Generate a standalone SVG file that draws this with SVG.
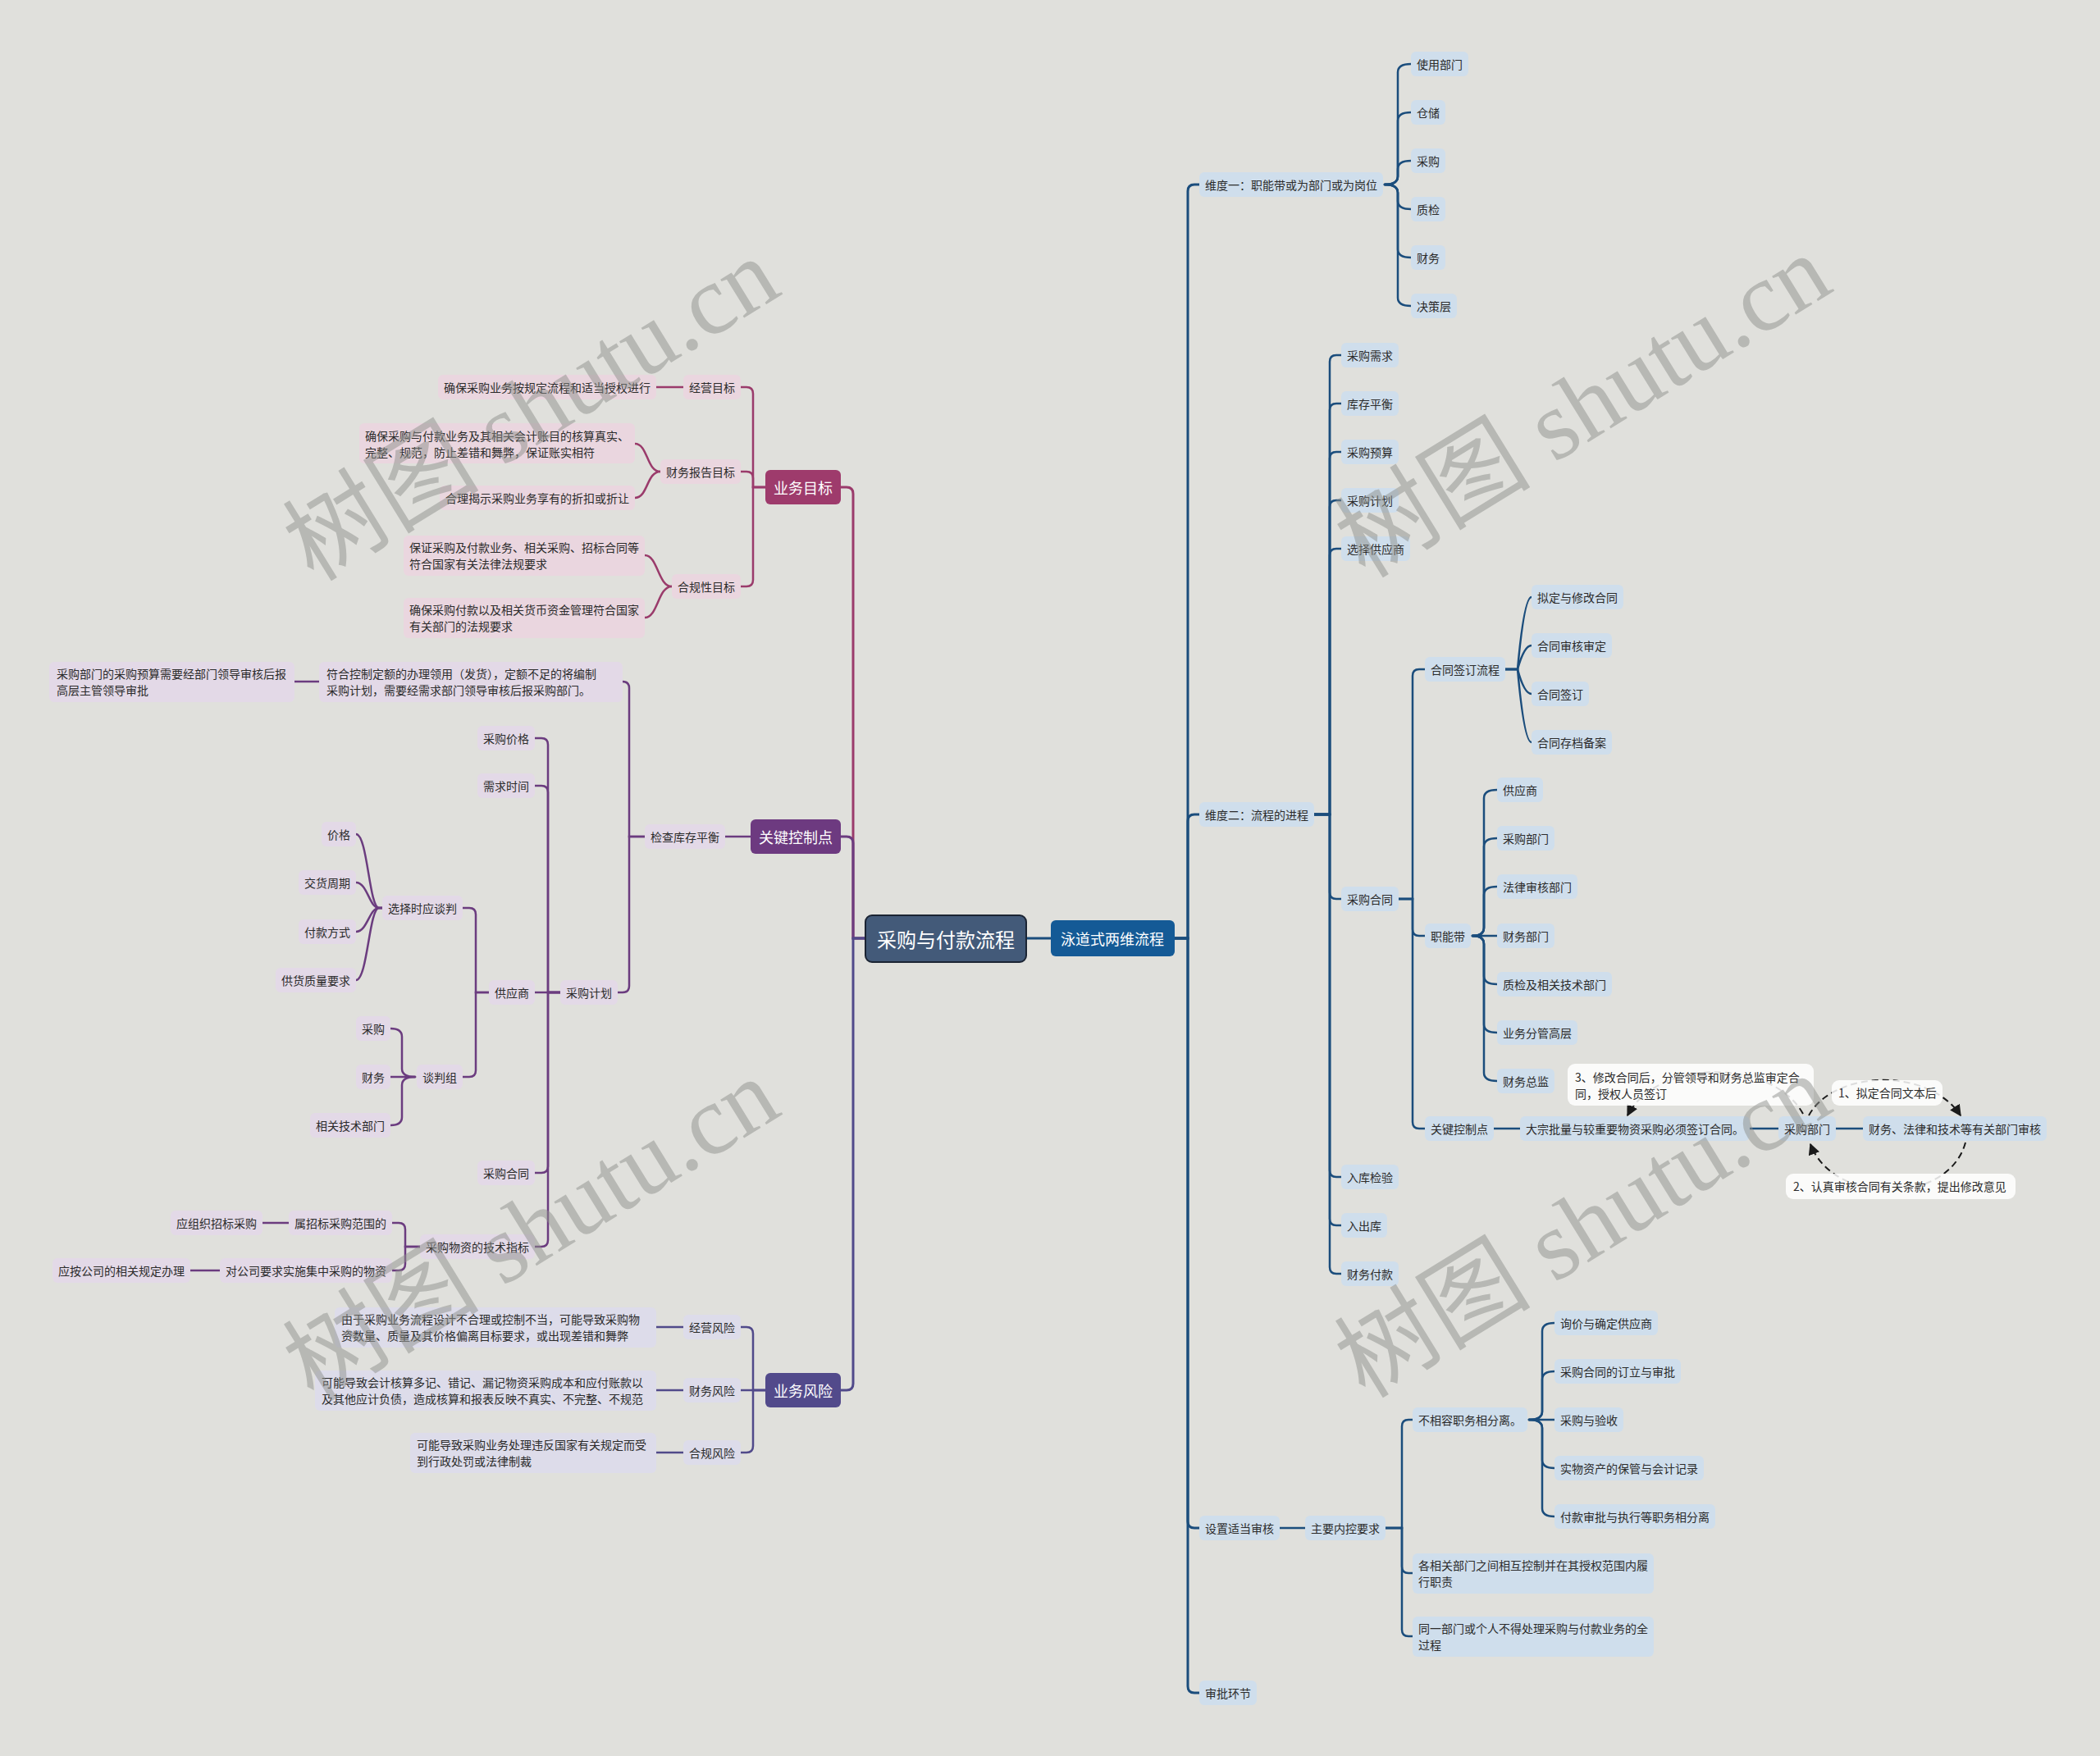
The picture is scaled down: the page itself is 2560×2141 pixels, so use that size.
<svg xmlns="http://www.w3.org/2000/svg" width="2560" height="2141" viewBox="0 0 2560 2141">
<defs>
<style>
.t{font-family:"Noto Sans CJK SC","Noto Sans",sans-serif;font-size:14px;fill:#2b2b2b;dominant-baseline:central}
.tw{font-family:"Noto Sans CJK SC","Noto Sans",sans-serif;font-size:18px;fill:#fff;text-anchor:middle;dominant-baseline:central}
rect{rx:6px}
.nb{fill:#cfdeec}
.np{fill:#ead6df}
.nv{fill:#e3d9e7}
.ni{fill:#dddcea}
.lb{fill:#fff;fill-opacity:.85;rx:9px}
.c{fill:none;stroke-width:2.5;stroke-linecap:round}
.c3{stroke-width:3}
.cb{stroke:#1b4d7c}
.cp{stroke:#9a3b6b}
.cv{stroke:#6b3c7f}
.ci{stroke:#514a8a}
.ar{fill:none;stroke:#1a1a1a;stroke-width:2;stroke-dasharray:8 5;marker-end:url(#ah)}
.wm{font-family:"Liberation Serif","Noto Sans CJK SC",serif;font-size:120px;fill:#8e908c;fill-opacity:.5;text-anchor:middle}
</style>
<marker id="ah" viewBox="0 0 10 10" refX="9" refY="5" markerWidth="14" markerHeight="14" markerUnits="userSpaceOnUse" orient="auto"><path d="M0,0 L10,5 L0,10 z" fill="#1a1a1a"/></marker>
</defs>
<rect x="0" y="0" width="2560" height="2141" style="fill:#e0e0dc;rx:0"/>

<g id="connectors">
<path class="c c3 cb" d="M1251 1144 H1281"/>
<path class="c c3 cb" d="M1432 1144 H1448 V233 Q1448 225 1456 225 H1462"/>
<path class="c c3 cb" d="M1432 1144 H1448 V1001 Q1448 993 1456 993 H1462"/>
<path class="c c3 cb" d="M1432 1144 H1448 V1855 Q1448 1863 1456 1863 H1462"/>
<path class="c c3 cb" d="M1432 1144 H1448 V2056 Q1448 2064 1456 2064 H1462"/>
<path class="c cb" d="M1688 225 Q1704 225 1704 215 V88 Q1704 78 1720 78"/>
<path class="c cb" d="M1688 225 Q1704 225 1704 215 V147 Q1704 137 1720 137"/>
<path class="c cb" d="M1688 225 Q1704 225 1704 215 V206 Q1704 196 1720 196"/>
<path class="c cb" d="M1688 225 Q1704 225 1704 235 V245 Q1704 255 1720 255"/>
<path class="c cb" d="M1688 225 Q1704 225 1704 235 V304 Q1704 314 1720 314"/>
<path class="c cb" d="M1688 225 Q1704 225 1704 235 V363 Q1704 373 1720 373"/>
<path class="c cb" d="M1602 993 H1621 V441 Q1621 433 1629 433 H1635"/>
<path class="c cb" d="M1602 993 H1621 V500 Q1621 492 1629 492 H1635"/>
<path class="c cb" d="M1602 993 H1621 V559 Q1621 551 1629 551 H1635"/>
<path class="c cb" d="M1602 993 H1621 V618 Q1621 610 1629 610 H1635"/>
<path class="c cb" d="M1602 993 H1621 V677 Q1621 669 1629 669 H1635"/>
<path class="c cb" d="M1602 993 H1621 V1088 Q1621 1096 1629 1096 H1635"/>
<path class="c cb" d="M1602 993 H1621 V1427 Q1621 1435 1629 1435 H1635"/>
<path class="c cb" d="M1602 993 H1621 V1486 Q1621 1494 1629 1494 H1635"/>
<path class="c cb" d="M1602 993 H1621 V1545 Q1621 1553 1629 1553 H1635"/>
<path class="c cb" d="M1705 1096 H1722 V824 Q1722 816 1730 816 H1737"/>
<path class="c cb" d="M1705 1096 H1722 V1133 Q1722 1141 1730 1141 H1737"/>
<path class="c cb" d="M1705 1096 H1722 V1368 Q1722 1376 1730 1376 H1737"/>
<path class="c cb" d="M1835 816 H1850 Q1858 728 1867 728"/>
<path class="c cb" d="M1835 816 H1850 Q1858 787 1867 787"/>
<path class="c cb" d="M1835 816 H1850 Q1858 846 1867 846"/>
<path class="c cb" d="M1835 816 H1850 Q1858 905 1867 905"/>
<path class="c cb" d="M1795 1141 Q1809 1141 1809 1131 V973 Q1809 963 1825 963"/>
<path class="c cb" d="M1795 1141 Q1809 1141 1809 1131 V1032 Q1809 1022 1825 1022"/>
<path class="c cb" d="M1795 1141 Q1809 1141 1809 1131 V1091 Q1809 1081 1825 1081"/>
<path class="c cb" d="M1795 1141 H1825"/>
<path class="c cb" d="M1795 1141 Q1809 1141 1809 1151 V1190 Q1809 1200 1825 1200"/>
<path class="c cb" d="M1795 1141 Q1809 1141 1809 1151 V1249 Q1809 1259 1825 1259"/>
<path class="c cb" d="M1795 1141 Q1809 1141 1809 1151 V1308 Q1809 1318 1825 1318"/>
<path class="c cb" d="M1821 1376 H1853"/>
<path class="c cb" d="M2133 1376 H2168"/>
<path class="c cb" d="M2238 1376 H2271"/>
<path class="c cb" d="M1560 1863 H1591"/>
<path class="c cb" d="M1689 1863 H1709 V1739 Q1709 1731 1717 1731 H1722"/>
<path class="c cb" d="M1689 1863 H1709 V1910 Q1709 1918 1717 1918 H1722"/>
<path class="c cb" d="M1689 1863 H1709 V1987 Q1709 1995 1717 1995 H1722"/>
<path class="c cb" d="M1864 1731 Q1880 1731 1880 1721 V1623 Q1880 1613 1895 1613"/>
<path class="c cb" d="M1864 1731 Q1880 1731 1880 1721 V1682 Q1880 1672 1895 1672"/>
<path class="c cb" d="M1864 1731 H1895"/>
<path class="c cb" d="M1864 1731 Q1880 1731 1880 1741 V1780 Q1880 1790 1895 1790"/>
<path class="c cb" d="M1864 1731 Q1880 1731 1880 1741 V1839 Q1880 1849 1895 1849"/>

<path class="c c3 cp" d="M1055 1144 H1040 V602 Q1040 594 1032 594 H1025"/>
<path class="c c3 cv" d="M1055 1144 H1040 V1028 Q1040 1020 1032 1020 H1025"/>
<path class="c c3 ci" d="M1055 1144 H1040 V1687 Q1040 1695 1032 1695 H1025"/>

<path class="c cp" d="M933 594 H918 V480 Q918 472 910 472 H903"/>
<path class="c cp" d="M933 594 H918 V583 Q918 575 910 575 H903"/>
<path class="c cp" d="M933 594 H918 V707 Q918 715 910 715 H903"/>
<path class="c cp" d="M833 472 H800"/>
<path class="c cp" d="M805 575 C788 575 790 541 774 541"/>
<path class="c cp" d="M805 575 C788 575 790 607 774 607"/>
<path class="c cp" d="M819 715 C802 715 802 677 786 677"/>
<path class="c cp" d="M819 715 C802 715 802 753 786 753"/>

<path class="c cv" d="M915 1020 H884"/>
<path class="c cv" d="M786 1020 H767 V839 Q767 831 759 831"/>
<path class="c cv" d="M786 1020 H767 V1202 Q767 1210 759 1210 H753"/>
<path class="c cv" d="M389 831 H359"/>
<path class="c cv" d="M683 1210 H668 V908 Q668 900 660 900 H652"/>
<path class="c cv" d="M683 1210 H668 V966 Q668 958 660 958 H652"/>
<path class="c cv" d="M683 1210 H652"/>
<path class="c cv" d="M683 1210 H668 V1422 Q668 1430 660 1430 H652"/>
<path class="c cv" d="M683 1210 H668 V1512 Q668 1520 660 1520 H652"/>
<path class="c cv" d="M596 1210 H580 V1115 Q580 1107 572 1107 H564"/>
<path class="c cv" d="M596 1210 H580 V1305 Q580 1313 572 1313 H564"/>
<path class="c cv" d="M466 1107 H462 C450 1107 448 1017 434 1017"/>
<path class="c cv" d="M466 1107 H462 C450 1107 448 1076 434 1076"/>
<path class="c cv" d="M466 1107 H462 C450 1107 448 1136 434 1136"/>
<path class="c cv" d="M466 1107 H462 C450 1107 448 1195 434 1195"/>
<path class="c cv" d="M506 1313 Q490 1313 490 1303 V1264 Q490 1254 476 1254"/>
<path class="c cv" d="M506 1313 H476"/>
<path class="c cv" d="M506 1313 Q490 1313 490 1323 V1362 Q490 1372 476 1372"/>
<path class="c cv" d="M512 1520 H494 V1499 Q494 1491 486 1491 H478"/>
<path class="c cv" d="M512 1520 H494 V1541 Q494 1549 486 1549 H478"/>
<path class="c cv" d="M352 1491 H320"/>
<path class="c cv" d="M268 1549 H232"/>

<path class="c ci" d="M933 1695 H918 V1626 Q918 1618 910 1618 H903"/>
<path class="c ci" d="M933 1695 H903"/>
<path class="c ci" d="M933 1695 H918 V1763 Q918 1771 910 1771 H903"/>
<path class="c ci" d="M833 1618 H800"/>
<path class="c ci" d="M833 1695 H800"/>
<path class="c ci" d="M833 1771 H800"/>

<path class="ar" d="M2205 1360 C2235 1305 2350 1300 2390 1360"/>
<path class="ar" d="M2396 1393 C2375 1470 2235 1470 2207 1395"/>
<path class="ar" d="M2198 1358 C2160 1290 2020 1290 1984 1360"/>
</g>

<g id="root"><rect x="1055" y="1116" width="196" height="57" style="fill:#435a79;stroke:#1b2433;stroke-width:2;rx:8px"/><text class="tw" x="1153" y="1144" style="font-size:24px">采购与付款流程</text></g>
<g id="n-swim"><rect x="1281" y="1122" width="151" height="44" style="fill:#145a96"/><text class="tw" x="1356" y="1144">泳道式两维流程</text></g>

<g id="n-d1"><rect class="nb" x="1462" y="210" width="224" height="30"/><text class="t" x="1469" y="225">维度一：职能带或为部门或为岗位</text></g>
<g id="n-d1-1"><rect class="nb" x="1720" y="63" width="70" height="30"/><text class="t" x="1727" y="78">使用部门</text></g>
<g id="n-d1-2"><rect class="nb" x="1720" y="122" width="42" height="30"/><text class="t" x="1727" y="137">仓储</text></g>
<g id="n-d1-3"><rect class="nb" x="1720" y="181" width="42" height="30"/><text class="t" x="1727" y="196">采购</text></g>
<g id="n-d1-4"><rect class="nb" x="1720" y="240" width="42" height="30"/><text class="t" x="1727" y="255">质检</text></g>
<g id="n-d1-5"><rect class="nb" x="1720" y="299" width="42" height="30"/><text class="t" x="1727" y="314">财务</text></g>
<g id="n-d1-6"><rect class="nb" x="1720" y="358" width="56" height="30"/><text class="t" x="1727" y="373">决策层</text></g>

<g id="n-d2"><rect class="nb" x="1462" y="978" width="140" height="30"/><text class="t" x="1469" y="993">维度二：流程的进程</text></g>
<g id="n-d2-1"><rect class="nb" x="1635" y="418" width="70" height="30"/><text class="t" x="1642" y="433">采购需求</text></g>
<g id="n-d2-2"><rect class="nb" x="1635" y="477" width="70" height="30"/><text class="t" x="1642" y="492">库存平衡</text></g>
<g id="n-d2-3"><rect class="nb" x="1635" y="536" width="70" height="30"/><text class="t" x="1642" y="551">采购预算</text></g>
<g id="n-d2-4"><rect class="nb" x="1635" y="595" width="70" height="30"/><text class="t" x="1642" y="610">采购计划</text></g>
<g id="n-d2-5"><rect class="nb" x="1635" y="654" width="84" height="30"/><text class="t" x="1642" y="669">选择供应商</text></g>
<g id="n-d2-6"><rect class="nb" x="1635" y="1081" width="70" height="30"/><text class="t" x="1642" y="1096">采购合同</text></g>
<g id="n-d2-7"><rect class="nb" x="1635" y="1420" width="70" height="30"/><text class="t" x="1642" y="1435">入库检验</text></g>
<g id="n-d2-8"><rect class="nb" x="1635" y="1479" width="56" height="30"/><text class="t" x="1642" y="1494">入出库</text></g>
<g id="n-d2-9"><rect class="nb" x="1635" y="1538" width="70" height="30"/><text class="t" x="1642" y="1553">财务付款</text></g>

<g id="n-ht1"><rect class="nb" x="1737" y="801" width="98" height="30"/><text class="t" x="1744" y="816">合同签订流程</text></g>
<g id="n-ht2"><rect class="nb" x="1737" y="1126" width="56" height="30"/><text class="t" x="1744" y="1141">职能带</text></g>
<g id="n-ht3"><rect class="nb" x="1737" y="1361" width="84" height="30"/><text class="t" x="1744" y="1376">关键控制点</text></g>

<g id="n-qd1"><rect class="nb" x="1867" y="713" width="112" height="30"/><text class="t" x="1874" y="728">拟定与修改合同</text></g>
<g id="n-qd2"><rect class="nb" x="1867" y="772" width="98" height="30"/><text class="t" x="1874" y="787">合同审核审定</text></g>
<g id="n-qd3"><rect class="nb" x="1867" y="831" width="70" height="30"/><text class="t" x="1874" y="846">合同签订</text></g>
<g id="n-qd4"><rect class="nb" x="1867" y="890" width="98" height="30"/><text class="t" x="1874" y="905">合同存档备案</text></g>

<g id="n-zn1"><rect class="nb" x="1825" y="948" width="56" height="30"/><text class="t" x="1832" y="963">供应商</text></g>
<g id="n-zn2"><rect class="nb" x="1825" y="1007" width="70" height="30"/><text class="t" x="1832" y="1022">采购部门</text></g>
<g id="n-zn3"><rect class="nb" x="1825" y="1066" width="98" height="30"/><text class="t" x="1832" y="1081">法律审核部门</text></g>
<g id="n-zn4"><rect class="nb" x="1825" y="1126" width="70" height="30"/><text class="t" x="1832" y="1141">财务部门</text></g>
<g id="n-zn5"><rect class="nb" x="1825" y="1185" width="140" height="30"/><text class="t" x="1832" y="1200">质检及相关技术部门</text></g>
<g id="n-zn6"><rect class="nb" x="1825" y="1244" width="98" height="30"/><text class="t" x="1832" y="1259">业务分管高层</text></g>
<g id="n-zn7"><rect class="nb" x="1825" y="1303" width="70" height="30"/><text class="t" x="1832" y="1318">财务总监</text></g>

<g id="n-kc1"><rect class="nb" x="1853" y="1361" width="280" height="30"/><text class="t" x="1860" y="1376">大宗批量与较重要物资采购必须签订合同。</text></g>
<g id="n-kc2"><rect class="nb" x="2168" y="1361" width="70" height="30"/><text class="t" x="2175" y="1376">采购部门</text></g>
<g id="n-kc3"><rect class="nb" x="2271" y="1361" width="224" height="30"/><text class="t" x="2278" y="1376">财务、法律和技术等有关部门审核</text></g>

<g id="n-lab3"><rect class="lb" x="1911" y="1297" width="300" height="51"/><text class="t" x="1920"><tspan x="1920" y="1313">3、修改合同后，分管领导和财务总监审定合</tspan><tspan x="1920" y="1333">同，授权人员签订</tspan></text></g>
<g id="n-lab1"><rect class="lb" x="2233" y="1317" width="135" height="31"/><text class="t" x="2241" y="1332">1、拟定合同文本后</text></g>
<g id="n-lab2"><rect class="lb" x="2177" y="1431" width="280" height="31"/><text class="t" x="2186" y="1446">2、认真审核合同有关条款，提出修改意见</text></g>

<g id="n-d3"><rect class="nb" x="1462" y="1848" width="98" height="30"/><text class="t" x="1469" y="1863">设置适当审核</text></g>
<g id="n-nk"><rect class="nb" x="1591" y="1848" width="98" height="30"/><text class="t" x="1598" y="1863">主要内控要求</text></g>
<g id="n-nk1"><rect class="nb" x="1722" y="1716" width="140" height="30"/><text class="t" x="1729" y="1731">不相容职务相分离。</text></g>
<g id="n-nk2"><rect class="nb" x="1722" y="1894" width="294" height="49"/><text class="t" x="1729"><tspan x="1729" y="1908">各相关部门之间相互控制并在其授权范围内履</tspan><tspan x="1729" y="1928">行职责</tspan></text></g>
<g id="n-nk3"><rect class="nb" x="1722" y="1971" width="294" height="49"/><text class="t" x="1729"><tspan x="1729" y="1985">同一部门或个人不得处理采购与付款业务的全</tspan><tspan x="1729" y="2005">过程</tspan></text></g>
<g id="n-fl1"><rect class="nb" x="1895" y="1598" width="126" height="30"/><text class="t" x="1902" y="1613">询价与确定供应商</text></g>
<g id="n-fl2"><rect class="nb" x="1895" y="1657" width="154" height="30"/><text class="t" x="1902" y="1672">采购合同的订立与审批</text></g>
<g id="n-fl3"><rect class="nb" x="1895" y="1716" width="84" height="30"/><text class="t" x="1902" y="1731">采购与验收</text></g>
<g id="n-fl4"><rect class="nb" x="1895" y="1775" width="182" height="30"/><text class="t" x="1902" y="1790">实物资产的保管与会计记录</text></g>
<g id="n-fl5"><rect class="nb" x="1895" y="1834" width="196" height="30"/><text class="t" x="1902" y="1849">付款审批与执行等职务相分离</text></g>
<g id="n-d4"><rect class="nb" x="1462" y="2049" width="70" height="30"/><text class="t" x="1469" y="2064">审批环节</text></g>

<g id="n-ywmb"><rect x="933" y="573" width="92" height="42" style="fill:#9e3b6c"/><text class="tw" x="979" y="594">业务目标</text></g>
<g id="n-jy"><rect class="np" x="833" y="457" width="70" height="30"/><text class="t" x="840" y="472">经营目标</text></g>
<g id="n-jy1"><rect class="np" x="534" y="457" width="266" height="30"/><text class="t" x="541" y="472">确保采购业务按规定流程和适当授权进行</text></g>
<g id="n-cw"><rect class="np" x="805" y="560" width="98" height="30"/><text class="t" x="812" y="575">财务报告目标</text></g>
<g id="n-cw1"><rect class="np" x="438" y="516" width="336" height="49"/><text class="t" x="445"><tspan x="445" y="531">确保采购与付款业务及其相关会计账目的核算真实、</tspan><tspan x="445" y="551">完整、规范，防止差错和舞弊，保证账实相符</tspan></text></g>
<g id="n-cw2"><rect class="np" x="536" y="592" width="238" height="30"/><text class="t" x="543" y="607">合理揭示采购业务享有的折扣或折让</text></g>
<g id="n-hg"><rect class="np" x="819" y="700" width="84" height="30"/><text class="t" x="826" y="715">合规性目标</text></g>
<g id="n-hg1"><rect class="np" x="492" y="653" width="294" height="49"/><text class="t" x="499"><tspan x="499" y="667">保证采购及付款业务、相关采购、招标合同等</tspan><tspan x="499" y="687">符合国家有关法律法规要求</tspan></text></g>
<g id="n-hg2"><rect class="np" x="492" y="729" width="294" height="49"/><text class="t" x="499"><tspan x="499" y="743">确保采购付款以及相关货币资金管理符合国家</tspan><tspan x="499" y="763">有关部门的法规要求</tspan></text></g>

<g id="n-gj"><rect x="915" y="999" width="110" height="42" style="fill:#6d3a80"/><text class="tw" x="970" y="1020">关键控制点</text></g>
<g id="n-kc"><rect class="nv" x="786" y="1005" width="98" height="30"/><text class="t" x="793" y="1020">检查库存平衡</text></g>
<g id="n-kc-a"><rect class="nv" x="389" y="807" width="370" height="49"/><text class="t" x="398"><tspan x="398" y="821">符合控制定额的办理领用（发货），定额不足的将编制</tspan><tspan x="398" y="841">采购计划，需要经需求部门领导审核后报采购部门。</tspan></text></g>
<g id="n-kc-b"><rect class="nv" x="60" y="807" width="299" height="49"/><text class="t" x="69"><tspan x="69" y="821">采购部门的采购预算需要经部门领导审核后报</tspan><tspan x="69" y="841">高层主管领导审批</tspan></text></g>
<g id="n-jh"><rect class="nv" x="683" y="1195" width="70" height="30"/><text class="t" x="690" y="1210">采购计划</text></g>
<g id="n-jh1"><rect class="nv" x="582" y="885" width="70" height="30"/><text class="t" x="589" y="900">采购价格</text></g>
<g id="n-jh2"><rect class="nv" x="582" y="943" width="70" height="30"/><text class="t" x="589" y="958">需求时间</text></g>
<g id="n-jh3"><rect class="nv" x="596" y="1195" width="56" height="30"/><text class="t" x="603" y="1210">供应商</text></g>
<g id="n-jh4"><rect class="nv" x="582" y="1415" width="70" height="30"/><text class="t" x="589" y="1430">采购合同</text></g>
<g id="n-jh5"><rect class="nv" x="512" y="1505" width="140" height="30"/><text class="t" x="519" y="1520">采购物资的技术指标</text></g>
<g id="n-xz"><rect class="nv" x="466" y="1092" width="98" height="30"/><text class="t" x="473" y="1107">选择时应谈判</text></g>
<g id="n-tp"><rect class="nv" x="508" y="1298" width="56" height="30"/><text class="t" x="515" y="1313">谈判组</text></g>
<g id="n-xz1"><rect class="nv" x="392" y="1002" width="42" height="30"/><text class="t" x="399" y="1017">价格</text></g>
<g id="n-xz2"><rect class="nv" x="364" y="1061" width="70" height="30"/><text class="t" x="371" y="1076">交货周期</text></g>
<g id="n-xz3"><rect class="nv" x="364" y="1121" width="70" height="30"/><text class="t" x="371" y="1136">付款方式</text></g>
<g id="n-xz4"><rect class="nv" x="336" y="1180" width="98" height="30"/><text class="t" x="343" y="1195">供货质量要求</text></g>
<g id="n-tp1"><rect class="nv" x="434" y="1239" width="42" height="30"/><text class="t" x="441" y="1254">采购</text></g>
<g id="n-tp2"><rect class="nv" x="434" y="1298" width="42" height="30"/><text class="t" x="441" y="1313">财务</text></g>
<g id="n-tp3"><rect class="nv" x="378" y="1357" width="98" height="30"/><text class="t" x="385" y="1372">相关技术部门</text></g>
<g id="n-js1"><rect class="nv" x="352" y="1476" width="126" height="30"/><text class="t" x="359" y="1491">属招标采购范围的</text></g>
<g id="n-js1a"><rect class="nv" x="208" y="1476" width="112" height="30"/><text class="t" x="215" y="1491">应组织招标采购</text></g>
<g id="n-js2"><rect class="nv" x="268" y="1534" width="210" height="30"/><text class="t" x="275" y="1549">对公司要求实施集中采购的物资</text></g>
<g id="n-js2a"><rect class="nv" x="64" y="1534" width="168" height="30"/><text class="t" x="71" y="1549">应按公司的相关规定办理</text></g>

<g id="n-fx"><rect x="933" y="1674" width="92" height="42" style="fill:#524a8b"/><text class="tw" x="979" y="1695">业务风险</text></g>
<g id="n-fx1"><rect class="ni" x="833" y="1603" width="70" height="30"/><text class="t" x="840" y="1618">经营风险</text></g>
<g id="n-fx2"><rect class="ni" x="833" y="1680" width="70" height="30"/><text class="t" x="840" y="1695">财务风险</text></g>
<g id="n-fx3"><rect class="ni" x="833" y="1756" width="70" height="30"/><text class="t" x="840" y="1771">合规风险</text></g>
<g id="n-fx1a"><rect class="ni" x="408" y="1594" width="392" height="49"/><text class="t" x="416"><tspan x="416" y="1608">由于采购业务流程设计不合理或控制不当，可能导致采购物</tspan><tspan x="416" y="1628">资数量、质量及其价格偏离目标要求，或出现差错和舞弊</tspan></text></g>
<g id="n-fx2a"><rect class="ni" x="384" y="1671" width="416" height="49"/><text class="t" x="392"><tspan x="392" y="1685">可能导致会计核算多记、错记、漏记物资采购成本和应付账款以</tspan><tspan x="392" y="1705">及其他应计负债，造成核算和报表反映不真实、不完整、不规范</tspan></text></g>
<g id="n-fx3a"><rect class="ni" x="500" y="1747" width="300" height="49"/><text class="t" x="508"><tspan x="508" y="1761">可能导致采购业务处理违反国家有关规定而受</tspan><tspan x="508" y="1781">到行政处罚或法律制裁</tspan></text></g>

<g id="watermarks">
<text class="wm" transform="translate(669 534) rotate(-31.6)">树图 shutu.cn</text>
<text class="wm" transform="translate(1951 530) rotate(-31.6)">树图 shutu.cn</text>
<text class="wm" transform="translate(669 1534) rotate(-31.6)">树图 shutu.cn</text>
<text class="wm" transform="translate(1951 1530) rotate(-31.6)">树图 shutu.cn</text>
</g>
</svg>
